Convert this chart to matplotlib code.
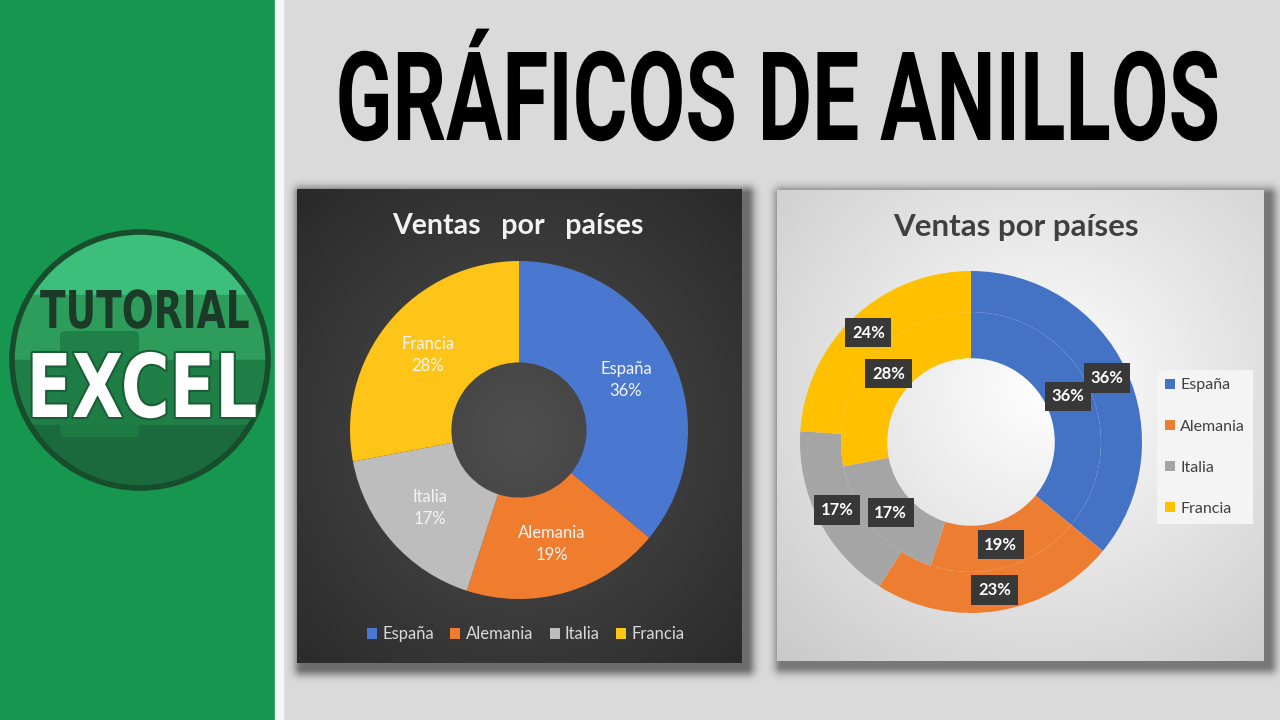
import numpy as np
import matplotlib
matplotlib.use('Agg')
import matplotlib.pyplot as plt
from matplotlib.patches import Rectangle, Circle, FancyBboxPatch
from matplotlib import patheffects
from matplotlib.colors import to_rgb
from matplotlib.transforms import Affine2D

# datos
paises = ['España', 'Alemania', 'Italia', 'Francia']
colores = ['#4472C4', '#ED7D31', '#A5A5A5', '#FFC000']
colores_osc = ['#4a78d0', '#f07c2e', '#bdbdbd', '#ffc418']
ventas_int = [36, 19, 17, 28]   # primera serie (gráfico oscuro y anillo interior)
ventas_ext = [36, 23, 17, 24]   # segunda serie (anillo exterior)
titulo = 'GRÁFICOS DE ANILLOS'
titulo_graf = 'Ventas por países'

W, H = 1280, 720
fig = plt.figure(figsize=(12.8, 7.2), dpi=100)
fig.patch.set_facecolor('#dadada')
bg = fig.add_axes([0, 0, 1, 1])
bg.axis('off')


class Estirar(patheffects.AbstractPathEffect):
    # deforma el texto (letra condensada y alta), con borde opcional
    def __init__(self, sx, sy, cx, cy, borde=None, grosor=0):
        super().__init__()
        self.sx, self.sy, self.cx, self.cy = sx, sy, cx, cy
        self.borde, self.grosor = borde, grosor

    def draw_path(self, renderer, gc, tpath, affine, rgbFace=None):
        a = affine + Affine2D().translate(-self.cx, -self.cy).scale(self.sx, self.sy) \
            .translate(self.cx, self.cy)
        if self.borde:
            gc0 = renderer.new_gc()
            gc0.copy_properties(gc)
            gc0.set_foreground(self.borde)
            gc0.set_linewidth(self.grosor)
            renderer.draw_path(gc0, tpath, a, to_rgb(self.borde))
            gc0.restore()
        renderer.draw_path(gc, tpath, a, rgbFace)


def estirar(t, ancho, alto, cx, base, cap=0.72, **kw):
    # ancho: ancho final en px, alto: altura de mayúscula final en px
    bb = t.get_window_extent(renderer=fig.canvas.get_renderer())
    sy = alto / (t.get_fontsize() * 100 / 72 * cap)
    t.set_path_effects([Estirar(ancho / bb.width, sy, cx, H - base, **kw)])


def degradado(x0, x1, y0, y1, c_in, c_out, cx=0.5, cy=0.5, escala=0.75, z=1):
    nx, ny = int(x1 - x0), int(y1 - y0)
    xx, yy = np.meshgrid(np.linspace(0, 1, nx), np.linspace(0, 1, ny))
    d = np.clip(np.hypot(xx - cx, yy - cy) / escala, 0, 1)[..., None]
    img = np.array(to_rgb(c_in)) * (1 - d) + np.array(to_rgb(c_out)) * d
    bg.imshow(img, extent=(x0, x1, y1, y0), aspect='auto', zorder=z)


def sombra(x0, y0, x1, y1, off=5, blur=8, alpha=0.5, z=0.5):
    pad = 30
    X0, X1, Y0, Y1 = x0 - pad + off, x1 + pad + off, y0 - pad + off, y1 + pad + off
    xs = np.arange(X0, X1) + 0.5
    ys = np.arange(Y0, Y1) + 0.5
    dx = np.maximum(np.maximum(x0 + off - xs, xs - (x1 + off)), 0)
    dy = np.maximum(np.maximum(y0 + off - ys, ys - (y1 + off)), 0)
    d = np.hypot(dx[None, :], dy[:, None])
    img = np.zeros((len(ys), len(xs), 4))
    img[..., 3] = alpha * np.exp(-(d / blur) ** 2)
    bg.imshow(img, extent=(X0, X1, Y1, Y0), aspect='auto', zorder=z)


# panel verde y franja blanca
bg.add_patch(Rectangle((0, 0), 275, H, color='#16964f', zorder=1))
bg.add_patch(Rectangle((275, 0), 8, H, color='#f7f7f7', zorder=1))

# logo
circ = Circle((140, 360), 128, color='#3cbf7a', zorder=2)
bg.add_patch(circ)
for y0, y1, c in [(295, 360, '#2e9c5b'), (360, 425, '#1f7f47'), (425, 500, '#1b6a3d')]:
    r = Rectangle((0, y0), 280, y1 - y0, color=c, zorder=2)
    bg.add_patch(r)
    r.set_clip_path(circ)
tile = FancyBboxPatch((60, 331), 79, 106, boxstyle='round,pad=0,rounding_size=5',
                      fc='#1e7d45', ec='none', alpha=0.85, zorder=2)
bg.add_patch(tile)
tile.set_clip_path(circ)
bg.add_patch(Circle((140, 360), 128, fill=False, ec='#174d2c', lw=4, zorder=3))

t_tut = bg.text(145, 328, 'TUTORIAL', fontsize=28, fontweight='bold', family='DejaVu Sans',
                color='#1c3a28', ha='center', va='baseline', zorder=4)
t_exc = bg.text(142, 417, 'EXCEL', fontsize=48, fontweight='bold', family='DejaVu Sans',
                color='white', ha='center', va='baseline', zorder=4)

# título principal
t_tit = bg.text(778, 140, titulo, fontsize=60, fontweight='bold', family='Roboto',
                color='black', ha='center', va='baseline', zorder=4)

# paneles de los gráficos
sombra(297, 189, 742, 663)
degradado(297, 742, 189, 663, '#4f4f4f', '#262626', cy=0.52, escala=0.78, z=1)
sombra(777, 190, 1264, 661, alpha=0.45)
degradado(777, 1264, 190, 661, '#ffffff', '#c6c6c6', cx=0.55, cy=0.42, escala=0.85, z=1)

bg.text(518, 226, 'Ventas   por   países', fontsize=20.5, fontweight='bold', family='Lato',
        color='#f2f2f2', ha='center', va='center', zorder=4)
bg.text(1016, 227, titulo_graf, fontsize=22.5, fontweight='bold', family='Lato',
        color='#404040', ha='center', va='center', zorder=4)

bg.set_xlim(0, W)
bg.set_ylim(H, 0)


def eje_pie(cx, cy, r):
    return fig.add_axes([(cx - r) / W, (H - cy - r) / H, 2 * r / W, 2 * r / H])


# gráfico oscuro
ax1 = eje_pie(519, 430, 169)
etiquetas = [f'{p}\n{v}%' for p, v in zip(paises, ventas_int)]
w1, t1 = ax1.pie(ventas_int, colors=colores_osc, startangle=90, counterclock=False,
                 wedgeprops=dict(width=0.6, edgecolor='none'),
                 labels=etiquetas, labeldistance=0.7,
                 textprops=dict(color='#f4f4f4', fontsize=12, family='Lato',
                                ha='center', va='center', linespacing=1.45))
ax1.set_xlim(-1, 1)
ax1.set_ylim(-1, 1)
ax1.axis('off')
ax1.legend(w1, paises, loc='center', bbox_to_anchor=(0.52, -0.104), ncol=4, frameon=False,
           handlelength=0.6, handleheight=0.6, handletextpad=0.3, columnspacing=1.0,
           prop=dict(family='Lato', size=12), labelcolor='#d9d9d9')

# gráfico claro de dos anillos
ax2 = eje_pie(971, 442, 171)
caja = dict(boxstyle='square,pad=0.4', fc='#383838', ec='none')
etq = dict(color='white', fontsize=12, fontweight='bold', family='Lato', bbox=caja)
w_ext, _, _ = ax2.pie(ventas_ext, colors=colores, startangle=90, counterclock=False, radius=1,
                      wedgeprops=dict(width=0.24, edgecolor='none'),
                      autopct=lambda p: f'{p:.0f}%', pctdistance=0.877, textprops=etq)
w_int, _, _ = ax2.pie(ventas_int, colors=colores, startangle=90, counterclock=False, radius=0.76,
                      wedgeprops=dict(width=0.27, edgecolor='none'),
                      autopct=lambda p: f'{p:.0f}%', pctdistance=0.823, textprops=etq)
ax2.set_xlim(-1, 1)
ax2.set_ylim(-1, 1)
ax2.axis('off')
leg = ax2.legend(w_int, paises, loc='center left', bbox_to_anchor=(1.044, 0.485), frameon=True,
                 facecolor='#f4f4f4', edgecolor='none', fancybox=False, framealpha=1,
                 handlelength=0.6, handleheight=0.6, handletextpad=0.35, labelspacing=1.7,
                 borderpad=0.5, borderaxespad=0, prop=dict(family='Lato', size=11.5),
                 labelcolor='#404040')

# letra condensada
fig.canvas.draw()
estirar(t_tit, 885, 88, 778, 140, cap=0.711)
estirar(t_tut, 210, 38, 145, 328, cap=0.729)
estirar(t_exc, 231, 64, 142, 417, cap=0.729, borde='#1b5e36', grosor=3)

fig.savefig('out.png', dpi=100)
